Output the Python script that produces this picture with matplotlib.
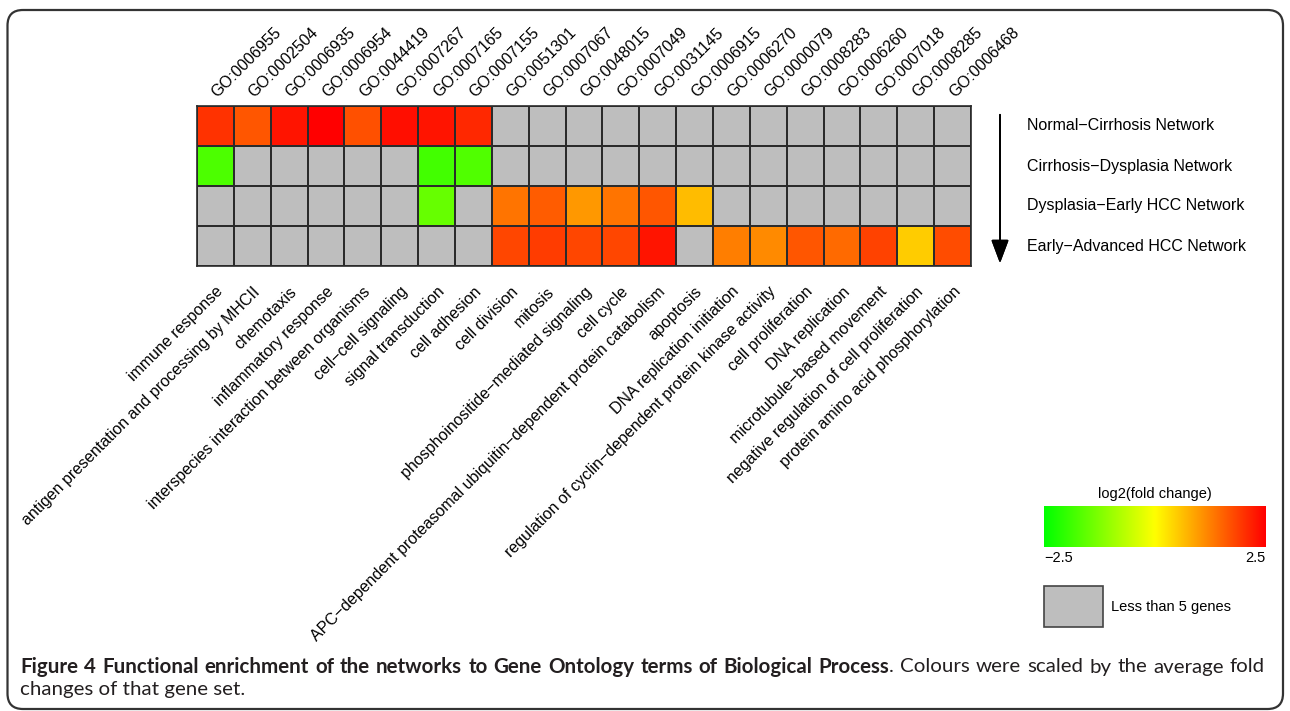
import numpy as np
import matplotlib
matplotlib.use("Agg")
from matplotlib import pyplot as plt
from matplotlib.colors import LinearSegmentedColormap
from matplotlib.patches import Rectangle, FancyBboxPatch

# GO terms (columns) and their names
go_ids = ["GO:0006955", "GO:0002504", "GO:0006935", "GO:0006954", "GO:0044419",
          "GO:0007267", "GO:0007165", "GO:0007155", "GO:0051301", "GO:0007067",
          "GO:0048015", "GO:0007049", "GO:0031145", "GO:0006915", "GO:0006270",
          "GO:0000079", "GO:0008283", "GO:0006260", "GO:0007018", "GO:0008285",
          "GO:0006468"]
go_names = ["immune response", "antigen presentation and processing by MHCII",
            "chemotaxis", "inflammatory response",
            "interspecies interaction between organisms", "cell\u2212cell signaling",
            "signal transduction", "cell adhesion", "cell division", "mitosis",
            "phosphoinositide\u2212mediated signaling", "cell cycle",
            "APC\u2212dependent proteasomal ubiquitin\u2212dependent protein catabolism",
            "apoptosis", "DNA replication initiation",
            "regulation of cyclin\u2212dependent protein kinase activity",
            "cell proliferation", "DNA replication", "microtubule\u2212based movement",
            "negative regulation of cell proliferation",
            "protein amino acid phosphorylation"]
networks = ["Normal\u2212Cirrhosis Network", "Cirrhosis\u2212Dysplasia Network",
            "Dysplasia\u2212Early HCC Network", "Early\u2212Advanced HCC Network"]

nan = np.nan
# log2(fold change), nan = less than 5 genes
normal_cirrhosis = [2.0, 1.65, 2.3, 2.5, 1.7, 2.35, 2.3, 2.1] + [nan] * 13
cirrhosis_dysplasia = [-1.75, nan, nan, nan, nan, nan, -1.85, -1.7] + [nan] * 13
dysplasia_early = [nan] * 6 + [-1.5, nan, 1.35, 1.6, 1.0, 1.35, 1.65, 0.65] + [nan] * 7
early_advanced = [nan] * 8 + [1.8, 1.9, 1.8, 1.8, 2.3, nan, 1.25, 1.15, 1.65,
                              1.45, 1.85, 0.5, 1.75]

caption_bold = "Figure 4 Functional enrichment of the networks to Gene Ontology terms of Biological Process"
caption_rest1 = ". Colours were scaled by the average fold"
caption_line2 = "changes of that gene set."

W, H = 1290, 711
fig = plt.figure(figsize=(12.9, 7.11), dpi=100)
plt.rcParams['font.family'] = ['Liberation Sans', 'DejaVu Sans']

def fx(px):
    return px / W

def fy(py):
    return 1 - py / H

cmap = LinearSegmentedColormap.from_list("gyr", ["#00FF00", "#FFFF00", "#FF0000"])
cmap.set_bad("#BEBEBE")

data = np.ma.masked_invalid(np.array([normal_cirrhosis, cirrhosis_dysplasia,
                                      dysplasia_early, early_advanced]))

# heatmap
ax = fig.add_axes([fx(197), fy(266), fx(971) - fx(197), fy(106) - fy(266)])
ax.pcolormesh(data, cmap=cmap, vmin=-2.5, vmax=2.5, edgecolors="#2b2b2b", linewidth=1.1)
ax.set_xlim(0, len(go_ids))
ax.set_ylim(len(networks), 0)
ax.set_xticks([])
ax.set_yticks([])
for s in ax.spines.values():
    s.set_linewidth(1.2)
    s.set_color("#2b2b2b")

fs = 11.5
for i, (gid, name) in enumerate(zip(go_ids, go_names)):
    ax.text(i + 0.62, -0.15, gid, rotation=45, rotation_mode="anchor",
            ha="left", va="bottom", fontsize=fs, clip_on=False)
    ax.text(i + 0.5, 4.45, name, rotation=45, rotation_mode="anchor",
            ha="right", va="top", fontsize=fs, clip_on=False)

for j, net in enumerate(networks):
    fig.text(fx(1027), fy(126 + 40 * j), net, fontsize=fs, va="center", ha="left")

# arrow from top to bottom network
fig.add_artist(plt.annotate("", xy=(fx(1000), fy(266)), xytext=(fx(1000), fy(112)),
                            xycoords="figure fraction",
                            arrowprops=dict(arrowstyle="-|>,head_width=0.3,head_length=0.8",
                                            color="black", lw=1.3, mutation_scale=18)))

# colour key
cax = fig.add_axes([fx(1044), fy(547), fx(1266) - fx(1044), fy(506) - fy(547)])
grad = np.linspace(-2.5, 2.5, 256).reshape(1, -1)
cax.imshow(grad, aspect="auto", cmap=cmap, vmin=-2.5, vmax=2.5, extent=[-2.5, 2.5, 0, 1])
cax.set_xticks([])
cax.set_yticks([])
for s in cax.spines.values():
    s.set_visible(False)
fig.text(fx(1155), fy(494), "log2(fold change)", fontsize=10.5, ha="center", va="center")
fig.text(fx(1044), fy(558), "\u22122.5", fontsize=10.5, ha="left", va="center")
fig.text(fx(1266), fy(558), "2.5", fontsize=10.5, ha="right", va="center")

fig.add_artist(Rectangle((fx(1044), fy(627)), fx(1103) - fx(1044), fy(586) - fy(627),
                         transform=fig.transFigure, facecolor="#BEBEBE",
                         edgecolor="#444444", lw=1.2))
fig.text(fx(1111), fy(607), "Less than 5 genes", fontsize=10.5, ha="left", va="center")

# rounded frame
fig.add_artist(FancyBboxPatch((fx(7.5), fy(709)), fx(1283) - fx(7.5), fy(10) - fy(709),
                              boxstyle="round,pad=0,rounding_size=0.012",
                              transform=fig.transFigure, facecolor="none",
                              edgecolor="#333333", lw=1.6, mutation_aspect=W / H))

# caption: size chosen so line 1 fits with ~6 px word gaps, then justified
cap_font = ["Lato", "DejaVu Sans"]
renderer = fig.canvas.get_renderer()
line1 = [(w, "bold") for w in caption_bold.split()]
line1 += [(w, "normal") for w in caption_rest1.split()]
n_gaps = len(line1) - 2  # the period sticks to "Process"


def make_words(size):
    ts = [fig.text(0, fy(667), w, fontsize=size, fontweight=wt, family=cap_font,
                   color="#231f20", ha="left", va="center") for w, wt in line1]
    return ts, [t.get_window_extent(renderer).width for t in ts]


texts, widths = make_words(10)
cap_fs = 10 * (1245 - n_gaps * 6) / sum(widths)
for t in texts:
    t.remove()
texts, widths = make_words(cap_fs)
gap = (1265 - 20 - sum(widths)) / n_gaps
x = 20.0
for k, t in enumerate(texts):
    t.set_x(fx(x))
    x += widths[k]
    if k + 1 < len(texts) and line1[k + 1][0] != ".":
        x += gap
fig.text(fx(20), fy(690), caption_line2, fontsize=cap_fs, family=cap_font,
         color="#231f20", ha="left", va="center")

fig.savefig("out.png", dpi=100)
